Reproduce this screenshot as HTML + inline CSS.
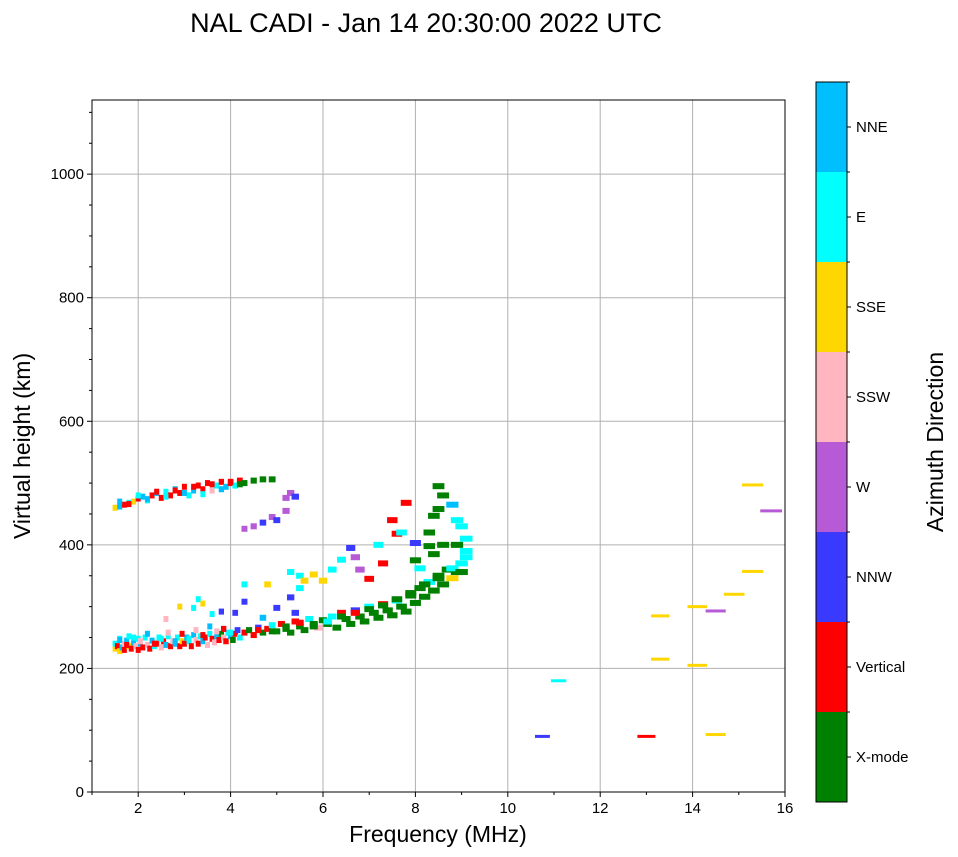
<!DOCTYPE html>
<html><head><meta charset="utf-8"><style>body{margin:0;background:#fff}svg{display:block;font-family:"Liberation Sans","DejaVu Sans",sans-serif}</style></head>
<body>
<svg id="c" width="958" height="857">
<text x="426" y="32" font-size="27" text-anchor="middle">NAL CADI - Jan 14 20:30:00 2022 UTC</text>
<g id="grid"></g><g id="marks"></g><g id="axes"></g><g id="cbar"></g>
<text x="438" y="842" font-size="23" text-anchor="middle">Frequency (MHz)</text>
<text transform="translate(30,446) rotate(-90)" font-size="23" text-anchor="middle">Virtual height (km)</text>
<text transform="translate(943,442) rotate(-90)" font-size="23" text-anchor="middle">Azimuth Direction</text>
</svg>
<script>
const xTicks=[2,4,6,8,10,12,14,16];
const yTicks=[0,200,400,600,800,1000];
const directions=["X-mode","Vertical","NNW","W","SSW","SSE","E","NNE"];
const dirColors=["#008000","#ff0000","#3a3aff","#b65ad6","#ffb6c1","#ffd700","#00ffff","#00bfff"];
const freqs=[1.5,1.5,1.55,1.6,1.6,1.65,1.7,1.7,1.75,1.8,1.8,1.85,1.9,1.95,2.0,2.0,2.05,2.1,2.15,2.2,2.25,2.3,2.35,2.4,2.45,2.5,2.55,2.6,2.65,2.7,2.75,2.8,2.85,2.9,2.95,3.0,3.05,3.1,3.15,3.2,3.25,3.3,3.35,3.4,3.45,3.5,3.55,3.6,3.65,3.7,3.75,3.8,3.85,3.9,3.95,4.0,4.05,4.1,4.15,4.2,
4.3,4.4,4.5,4.6,4.7,4.8,4.9,5.0,5.1,5.2,5.3,5.4,5.5,5.6,5.7,5.8,5.9,6.0,6.1,6.2,6.3,6.4,6.5,6.6,6.7,6.8,6.9,7.0,7.1,7.2,7.3,7.4,7.5,7.6,7.7,7.8,7.9,8.0,8.1,8.2,8.3,8.4,8.5,8.6,8.7,8.8,8.9,9.0,9.1,
6.0,6.2,6.4,5.8,5.5,5.3,6.6,6.7,6.8,7.0,7.2,7.3,7.5,7.6,7.7,7.8,8.0,8.0,8.1,8.3,8.3,8.4,8.5,8.6,8.8,8.9,9.0,9.1,9.1,8.9,8.5,8.4,8.6,
2.9,3.2,3.3,3.4,3.8,3.6,4.1,4.3,4.3,4.8,5.0,5.3,5.5,5.6,2.6,4.7,5.4,
1.5,1.6,1.7,1.8,1.9,2.0,2.1,2.2,2.3,2.4,2.5,2.6,2.7,2.8,2.9,3.0,3.1,3.2,3.3,3.4,3.5,3.6,3.7,3.8,3.9,4.0,4.1,4.2,4.3,4.5,4.7,4.9,
4.3,4.5,4.7,4.9,5.0,5.2,5.3,5.4,5.2,
11.1,10.75,13.0,13.3,13.3,14.1,14.1,14.5,14.5,14.9,15.3,15.3,15.7,
1.6,1.75,1.9,2.05,2.2,2.35,2.5,2.65,2.8,2.95,3.1,3.25,3.4,3.55,3.7,3.85,4.0,4.6,4.9,5.2,5.5,5.8,6.1,6.4,6.7,7.0,7.3,7.6,7.9,8.2,8.5,8.8,9.0,
1.6,1.8,2.0,2.2,2.4,2.6,2.8,3.0,3.2,3.4,3.6,3.8,4.0,4.2];
const heights=[232,240,236,228,248,234,240,230,245,236,252,232,242,236,230,248,240,234,250,238,232,245,236,240,250,234,244,238,252,236,244,240,250,236,244,240,250,244,236,254,246,240,252,244,250,238,256,248,242,252,246,256,250,244,258,252,246,256,262,250,
258,262,254,266,258,264,270,260,272,264,258,276,268,262,280,272,266,278,272,284,266,290,280,272,294,284,276,300,290,282,304,294,286,310,300,292,318,306,330,316,340,326,350,336,360,346,356,370,380,
342,360,376,352,350,356,395,380,360,345,400,370,440,418,420,468,403,375,362,398,420,447,458,480,465,440,430,410,390,400,495,385,400,
300,298,312,305,292,288,290,308,336,336,298,315,330,342,280,282,290,
460,462,465,468,470,475,478,472,480,484,476,486,480,490,484,494,480,488,496,490,500,488,496,502,494,500,496,504,500,504,506,506,
426,430,436,445,440,476,484,478,455,
180,90,90,215,285,300,205,93,293,320,497,357,455,
246,238,250,244,256,240,248,258,244,256,248,262,254,268,260,264,258,262,260,268,274,268,276,284,290,296,302,312,322,336,346,362,356,
470,466,480,474,486,478,488,484,494,482,498,490,502,498];
const dirIndex=[5,6,1,5,6,7,4,1,7,5,6,1,7,4,1,6,7,1,6,4,1,7,6,1,6,4,1,7,6,1,4,7,6,1,5,1,7,6,1,7,4,1,6,7,1,4,6,1,4,7,1,0,4,1,6,7,0,1,2,6,
1,0,1,2,0,1,6,0,1,0,0,1,0,0,6,0,4,0,0,6,0,1,0,0,2,0,0,6,0,0,1,0,0,6,0,0,0,0,0,0,6,0,0,0,0,5,0,6,6,
5,6,6,5,6,6,2,3,3,1,6,1,1,1,6,1,2,0,6,0,0,0,0,0,7,6,6,6,6,0,0,0,0,
5,6,6,5,2,6,2,2,6,5,2,2,6,5,4,7,2,
5,7,1,6,5,1,7,6,1,7,1,6,1,7,1,1,6,7,1,1,1,4,6,1,7,1,6,1,0,0,0,0,
3,3,2,3,2,3,3,2,3,
6,2,1,5,5,5,5,5,3,5,5,5,3,
7,1,6,4,7,1,6,4,7,1,6,4,1,7,4,1,6,1,0,0,1,0,6,0,1,0,0,0,0,0,0,6,0,
7,1,6,7,1,6,1,7,1,6,1,7,1,0];
const NS="http://www.w3.org/2000/svg";
const X0=92,X1=785,Y0=792,Y1=100,FMIN=1,FMAX=16,HMIN=0,HMAX=1120;
const xS=f=>X0+(f-FMIN)/(FMAX-FMIN)*(X1-X0);
const yS=h=>Y0-(h-HMIN)/(HMAX-HMIN)*(Y0-Y1);
function mk(t,a,p){const e=document.createElementNS(NS,t);for(const k in a)e.setAttribute(k,a[k]);p.appendChild(e);return e;}
const grid=document.getElementById('grid'),marks=document.getElementById('marks'),axes=document.getElementById('axes'),cb=document.getElementById('cbar');
xTicks.forEach(t=>{const x=xS(t);
 const g=mk('line',{x1:x,x2:x,y1:Y1,y2:Y0,stroke:'#b0b0b0','stroke-width':1},grid);
 
 
 mk('line',{x1:x,x2:x,y1:Y0,y2:Y0+5,stroke:'#000'},axes);
 const l=mk('text',{x:x,y:Y0+21,'font-size':15,'text-anchor':'middle'},axes);l.textContent=t;
 
 });
for(let f=1;f<=16;f+=2){const x=xS(f);mk('line',{x1:x,x2:x,y1:Y0,y2:Y0+3,stroke:'#000'},axes);}
yTicks.forEach(t=>{const y=yS(t);
 const g=mk('line',{x1:X0,x2:X1,y1:y,y2:y,stroke:'#b0b0b0','stroke-width':1},grid);
 
 
 mk('line',{x1:X0-5,x2:X0,y1:y,y2:y,stroke:'#000'},axes);
 const l=mk('text',{x:X0-8,y:y+5,'font-size':15,'text-anchor':'end'},axes);l.textContent=t;
 
 });
for(let h=50;h<=1100;h+=50){if(h%200)mk('line',{x1:X0-3,x2:X0,y1:yS(h),y2:yS(h),stroke:'#000'},axes);}
const fr=mk('rect',{x:X0,y:Y1,width:X1-X0,height:Y0-Y1,fill:'none',stroke:'#000'},axes);


for(let i=0;i<freqs.length;i++){
 const f=freqs[i],w=Math.max(5,xS(f*1.03)-xS(f));
 const hh=f<9.5?6:3;
 const r=mk('rect',{x:xS(f)-w/2,y:yS(heights[i])-hh/2,width:w,height:hh,fill:dirColors[dirIndex[i]]},marks);
 
 
}
const CX=816,CW=31,CT=82,CB=802,bh=(CB-CT)/directions.length;
directions.forEach((d,i)=>{const y=CB-(i+1)*bh;
 const r=mk('rect',{x:CX,y:y,width:CW,height:bh,fill:dirColors[i]},cb);
 
 
 mk('line',{x1:CX+CW,x2:CX+CW+4,y1:y+bh/2,y2:y+bh/2,stroke:'#000'},cb);
 const l=mk('text',{x:CX+CW+9,y:y+bh/2+5,'font-size':15},cb);l.textContent=d;
 
 
 mk('line',{x1:CX+CW,x2:CX+CW+3,y1:y,y2:y,stroke:'#000'},cb);});
mk('rect',{x:CX,y:CT,width:CW,height:CB-CT,fill:'none',stroke:'#000'},cb);
</script>
</body></html>
